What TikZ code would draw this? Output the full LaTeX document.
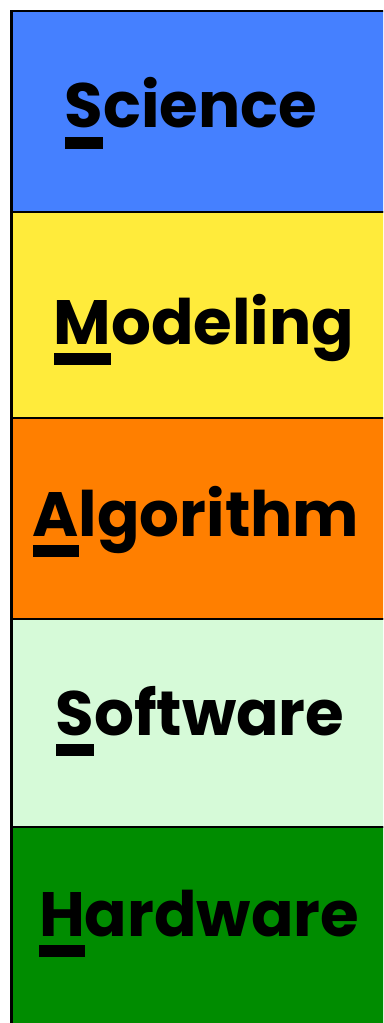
\documentclass[tikz,border=0pt]{standalone}
\usepackage{fontspec}
\usepackage{tikz}
\newfontfamily\layerfont{Poppins}
\definecolor{sciblue}{RGB}{69,128,255}
\definecolor{modyellow}{RGB}{255,235,59}
\definecolor{algorange}{RGB}{255,127,0}
\definecolor{swgreen}{RGB}{214,250,216}
\definecolor{hwgreen}{RGB}{0,140,0}
\newcommand\initbar[1]{\setbox0\hbox{#1}\rlap{\rule[-0.33em]{\wd0}{0.19em}}#1}
\tikzset{
    layer/.style={draw=black, line width=2pt},
    layertext/.style={anchor=base, font=\layerfont\bfseries\fontsize{47}{51}\selectfont, text=black, inner sep=0pt}
}

\begin{document}
\begin{tikzpicture}[x=0.75pt, y=-0.75pt]
    \useasboundingbox (0,0) rectangle (383,1023);
    \clip (0,0) rectangle (383,1023);

    \foreach \ya/\yb/\col in {11/212/sciblue, 212/418/modyellow, 418/619/algorange, 619/827/swgreen, 827/1040/hwgreen}
        \draw[layer, fill=\col] (11.5,\ya) rectangle (420,\yb);

    \node[layertext] (sci) at (191,128) {\initbar{S}cience};
    \node[layertext] (mod) at (204,344) {\initbar{M}odeling};
    \node[layertext] (alg) at (196,536) {\initbar{A}lgorithm};
    \node[layertext] (sw) at (200,735) {\initbar{S}oftware};
    \node[layertext] (hw) at (199,936) {\initbar{H}ardware};
\end{tikzpicture}
\end{document}
